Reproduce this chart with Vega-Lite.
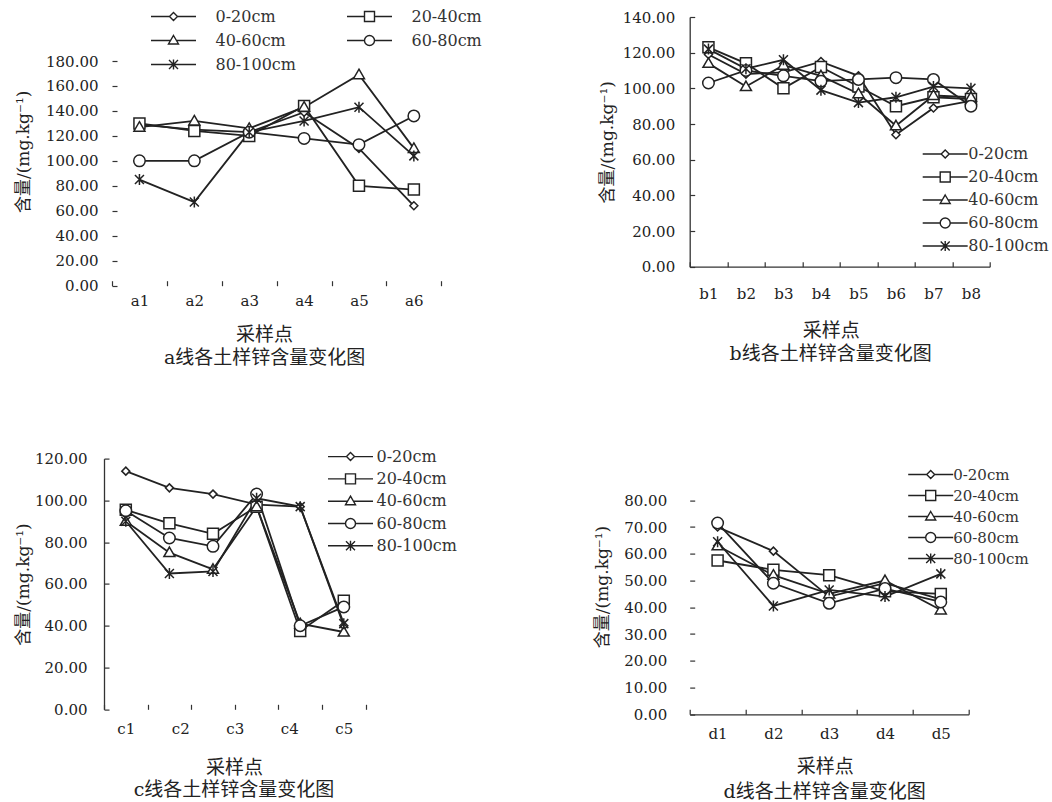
{
  "$schema": "https://vega.github.io/schema/vega-lite/v6.json",
  "autosize": {"type": "pad"},
  "padding": {"left": 14, "top": 8, "right": 2, "bottom": 0},
  "background": "white",
  "config": {
    "view": {"stroke": null},
    "font": "DejaVu Serif, Noto Sans CJK SC",
    "axis": {"domainColor": "#333", "domainWidth": 1.3, "tickColor": "#333", "tickWidth": 1.2, "labelColor": "#222", "labelFont": "DejaVu Serif", "labelFontSize": 15, "titleFont": "DejaVu Serif, Noto Sans CJK SC", "titleFontWeight": "normal", "titleColor": "#222", "grid": false, "labelOverlap": false, "labelFlush": false},
    "title": {"font": "DejaVu Serif, Noto Sans CJK SC", "fontSize": 19, "fontWeight": "normal", "color": "#222"},
    "legend": {"orient": "none", "title": null, "padding": 0, "direction": "vertical", "symbolSize": 100, "symbolStrokeWidth": 1.4, "symbolStrokeColor": "#222", "symbolOpacity": 1, "labelColor": "#333", "labelFont": "DejaVu Serif", "labelFontSize": 16, "symbolOffset": 16.5}
  },
  "datasets": {
    "a": [
      {"i": 1, "s": "0-20cm", "v": 129}, {"i": 2, "s": "0-20cm", "v": 125}, {"i": 3, "s": "0-20cm", "v": 123}, {"i": 4, "s": "0-20cm", "v": 139}, {"i": 5, "s": "0-20cm", "v": 110}, {"i": 6, "s": "0-20cm", "v": 64},
      {"i": 1, "s": "20-40cm", "v": 130}, {"i": 2, "s": "20-40cm", "v": 124}, {"i": 3, "s": "20-40cm", "v": 120}, {"i": 4, "s": "20-40cm", "v": 144}, {"i": 5, "s": "20-40cm", "v": 80}, {"i": 6, "s": "20-40cm", "v": 77},
      {"i": 1, "s": "40-60cm", "v": 127}, {"i": 2, "s": "40-60cm", "v": 132}, {"i": 3, "s": "40-60cm", "v": 126}, {"i": 4, "s": "40-60cm", "v": 143}, {"i": 5, "s": "40-60cm", "v": 169}, {"i": 6, "s": "40-60cm", "v": 110},
      {"i": 1, "s": "60-80cm", "v": 100}, {"i": 2, "s": "60-80cm", "v": 100}, {"i": 3, "s": "60-80cm", "v": 123}, {"i": 4, "s": "60-80cm", "v": 118}, {"i": 5, "s": "60-80cm", "v": 113}, {"i": 6, "s": "60-80cm", "v": 136},
      {"i": 1, "s": "80-100cm", "v": 85}, {"i": 2, "s": "80-100cm", "v": 67}, {"i": 3, "s": "80-100cm", "v": 123}, {"i": 4, "s": "80-100cm", "v": 132}, {"i": 5, "s": "80-100cm", "v": 143}, {"i": 6, "s": "80-100cm", "v": 104}
    ],
    "b": [
      {"i": 1, "s": "0-20cm", "v": 119}, {"i": 2, "s": "0-20cm", "v": 108}, {"i": 3, "s": "0-20cm", "v": 109}, {"i": 4, "s": "0-20cm", "v": 115}, {"i": 5, "s": "0-20cm", "v": 107}, {"i": 6, "s": "0-20cm", "v": 74}, {"i": 7, "s": "0-20cm", "v": 89}, {"i": 8, "s": "0-20cm", "v": 93},
      {"i": 1, "s": "20-40cm", "v": 123}, {"i": 2, "s": "20-40cm", "v": 114}, {"i": 3, "s": "20-40cm", "v": 100}, {"i": 4, "s": "20-40cm", "v": 112}, {"i": 5, "s": "20-40cm", "v": 101}, {"i": 6, "s": "20-40cm", "v": 90}, {"i": 7, "s": "20-40cm", "v": 95}, {"i": 8, "s": "20-40cm", "v": 94},
      {"i": 1, "s": "40-60cm", "v": 114}, {"i": 2, "s": "40-60cm", "v": 101}, {"i": 3, "s": "40-60cm", "v": 113}, {"i": 4, "s": "40-60cm", "v": 107}, {"i": 5, "s": "40-60cm", "v": 97}, {"i": 6, "s": "40-60cm", "v": 79}, {"i": 7, "s": "40-60cm", "v": 96}, {"i": 8, "s": "40-60cm", "v": 95},
      {"i": 1, "s": "60-80cm", "v": 103}, {"i": 2, "s": "60-80cm", "v": 110}, {"i": 3, "s": "60-80cm", "v": 107}, {"i": 4, "s": "60-80cm", "v": 104}, {"i": 5, "s": "60-80cm", "v": 105}, {"i": 6, "s": "60-80cm", "v": 106}, {"i": 7, "s": "60-80cm", "v": 105}, {"i": 8, "s": "60-80cm", "v": 90},
      {"i": 1, "s": "80-100cm", "v": 122}, {"i": 2, "s": "80-100cm", "v": 111}, {"i": 3, "s": "80-100cm", "v": 116}, {"i": 4, "s": "80-100cm", "v": 99}, {"i": 5, "s": "80-100cm", "v": 92}, {"i": 6, "s": "80-100cm", "v": 95}, {"i": 7, "s": "80-100cm", "v": 101}, {"i": 8, "s": "80-100cm", "v": 100}
    ],
    "c": [
      {"i": 1, "s": "0-20cm", "v": 114}, {"i": 2, "s": "0-20cm", "v": 106}, {"i": 3, "s": "0-20cm", "v": 103}, {"i": 4, "s": "0-20cm", "v": 98}, {"i": 5, "s": "0-20cm", "v": 97}, {"i": 6, "s": "0-20cm", "v": 40},
      {"i": 1, "s": "20-40cm", "v": 95.5}, {"i": 2, "s": "20-40cm", "v": 89}, {"i": 3, "s": "20-40cm", "v": 84}, {"i": 4, "s": "20-40cm", "v": 97}, {"i": 5, "s": "20-40cm", "v": 37.5}, {"i": 6, "s": "20-40cm", "v": 52},
      {"i": 1, "s": "40-60cm", "v": 90}, {"i": 2, "s": "40-60cm", "v": 75}, {"i": 3, "s": "40-60cm", "v": 67}, {"i": 4, "s": "40-60cm", "v": 97}, {"i": 5, "s": "40-60cm", "v": 41}, {"i": 6, "s": "40-60cm", "v": 37},
      {"i": 1, "s": "60-80cm", "v": 95}, {"i": 2, "s": "60-80cm", "v": 82}, {"i": 3, "s": "60-80cm", "v": 78}, {"i": 4, "s": "60-80cm", "v": 103}, {"i": 5, "s": "60-80cm", "v": 40}, {"i": 6, "s": "60-80cm", "v": 49},
      {"i": 1, "s": "80-100cm", "v": 90}, {"i": 2, "s": "80-100cm", "v": 65}, {"i": 3, "s": "80-100cm", "v": 66}, {"i": 4, "s": "80-100cm", "v": 101}, {"i": 5, "s": "80-100cm", "v": 97}, {"i": 6, "s": "80-100cm", "v": 41}
    ],
    "d": [
      {"i": 1, "s": "0-20cm", "v": 70}, {"i": 2, "s": "0-20cm", "v": 61}, {"i": 3, "s": "0-20cm", "v": 44}, {"i": 4, "s": "0-20cm", "v": 49}, {"i": 5, "s": "0-20cm", "v": 43},
      {"i": 1, "s": "20-40cm", "v": 57.5}, {"i": 2, "s": "20-40cm", "v": 54}, {"i": 3, "s": "20-40cm", "v": 52}, {"i": 4, "s": "20-40cm", "v": 46}, {"i": 5, "s": "20-40cm", "v": 45},
      {"i": 1, "s": "40-60cm", "v": 63}, {"i": 2, "s": "40-60cm", "v": 52}, {"i": 3, "s": "40-60cm", "v": 45}, {"i": 4, "s": "40-60cm", "v": 50}, {"i": 5, "s": "40-60cm", "v": 39},
      {"i": 1, "s": "60-80cm", "v": 71.5}, {"i": 2, "s": "60-80cm", "v": 49}, {"i": 3, "s": "60-80cm", "v": 41.5}, {"i": 4, "s": "60-80cm", "v": 47}, {"i": 5, "s": "60-80cm", "v": 42},
      {"i": 1, "s": "80-100cm", "v": 64.5}, {"i": 2, "s": "80-100cm", "v": 40.5}, {"i": 3, "s": "80-100cm", "v": 46.5}, {"i": 4, "s": "80-100cm", "v": 44}, {"i": 5, "s": "80-100cm", "v": 52.5}
    ]
  },
  "columns": 2,
  "align": "none",
  "bounds": "flush",
  "spacing": {"row": 172.6, "column": 241.7},
  "concat": [
    {
      "width": 337.3, "height": 268.7,
      "title": {"text": "a线各土样锌含量变化图", "orient": "bottom", "offset": 4, "dx": -8},
      "encoding": {
        "x": {"field": "i", "type": "quantitative", "scale": {"domain": [0.3542, 6.5], "nice": false, "zero": false},
          "axis": {"title": "采样点", "titleFontSize": 19, "titleX": 160, "domain": false, "values": [0.5, 1, 1.5, 2, 2.5, 3, 3.5, 4, 4.5, 5, 5.5, 6, 6.5], "labelExpr": "datum.value % 1 == 0 ? 'a' + datum.value : ''", "tickSize": -5, "tickOpacity": {"condition": {"test": "datum.value % 1 == 0", "value": 0}, "value": 1}, "labelPadding": 13, "titlePadding": 17}},
        "y": {"field": "v", "type": "quantitative", "scale": {"domain": [0, 215.25], "nice": false},
          "axis": {"title": "含量/(mg.kg⁻¹)", "titleFontSize": 17, "domain": false, "offset": -8, "values": [0, 20, 40, 60, 80, 100, 120, 140, 160, 180], "format": ".2f", "tickSize": -5, "labelPadding": 19, "titlePadding": 13}}
      },
      "layer": [
        {"data": {"values": [{}]}, "mark": {"type": "rule", "color": "#333", "strokeWidth": 1.3}, "encoding": {"x": {"datum": 0.5}, "y": {"datum": 0}, "y2": {"datum": 180}}},
        {"data": {"values": [{}]}, "mark": {"type": "rule", "color": "#333", "strokeWidth": 1.3}, "encoding": {"x": {"datum": 0.5}, "x2": {"datum": 6.5}, "y": {"datum": 0}}},
        {"data": {"name": "a"}, "mark": {"type": "line", "color": "#222", "strokeWidth": 1.8}, "encoding": {"detail": {"field": "s"}, "order": {"field": "i"}}},
        {"data": {"name": "a"}, "mark": {"type": "point", "filled": true, "fill": "white", "stroke": "#222", "strokeWidth": 1.5, "size": 100, "opacity": 1},
          "encoding": {"shape": {"field": "s", "type": "nominal", "legend": null, "scale": {"domain": ["0-20cm", "20-40cm", "40-60cm", "60-80cm", "80-100cm"], "range": ["M0,-0.8L0.8,0L0,0.8L-0.8,0Z", "M-1.1,-1.1L1.1,-1.1L1.1,1.1L-1.1,1.1Z", "M0,-1.1L1.1,0.8L-1.1,0.8Z", "M-1.15,0A1.15,1.15,0,1,1,1.15,0A1.15,1.15,0,1,1,-1.15,0Z", "M-0.9,-0.9L0.9,0.9M-0.9,0.9L0.9,-0.9M0,-1.1L0,1.1"]}}}},
        {"data": {"name": "a"}, "transform": [{"filter": "datum.v < 0"}],
          "mark": {"type": "point", "filled": false, "color": "#222", "strokeWidth": 1.4, "size": 100, "opacity": 1},
          "encoding": {"shape": {"field": "s", "type": "nominal", "scale": {"domain": ["0-20cm", "20-40cm", "40-60cm", "60-80cm", "80-100cm"], "range": ["M-4.5,0L-0.8,0M0.8,0L4.5,0M0,-0.8L0.8,0L0,0.8L-0.8,0Z", "M-4.5,0L-1,0M1,0L4.5,0M-1,-1L1,-1L1,1L-1,1Z", "M-4.5,0L-0.6,0M0.6,0L4.5,0M0,-1L1,0.7L-1,0.7Z", "M-4.5,0L-1,0M1,0L4.5,0M-1,0A1,1,0,1,1,1,0A1,1,0,1,1,-1,0Z", "M-4.5,0L4.5,0M-0.9,-0.9L0.9,0.9M-0.9,0.9L0.9,-0.9M0,-1L0,1"]},
            "legend": {"legendX": 45, "legendY": -8.5, "columns": 2, "direction": "horizontal", "rowPadding": 8, "columnPadding": 48, "labelOffset": 34, "symbolStrokeColor": "#222", "symbolStrokeWidth": 1.4}}}}
      ],
      "resolve": {"scale": {"shape": "independent"}}
    },
    {
      "data": {"name": "b"},
      "width": 300, "height": 249.7,
      "title": {"text": "b线各土样锌含量变化图", "orient": "bottom", "offset": 4, "dx": -9},
      "encoding": {
        "x": {"field": "i", "type": "quantitative", "scale": {"domain": [0.5, 8.5], "nice": false, "zero": false},
          "axis": {"title": "采样点", "titleFontSize": 19, "titleX": 141, "values": [0.5, 1, 1.5, 2, 2.5, 3, 3.5, 4, 4.5, 5, 5.5, 6, 6.5, 7, 7.5, 8, 8.5], "labelExpr": "datum.value % 1 == 0 ? 'b' + datum.value : ''", "tickSize": -5, "tickOpacity": {"condition": {"test": "datum.value % 1 == 0", "value": 0}, "value": 1}, "labelPadding": 25, "titlePadding": 20}},
        "y": {"field": "v", "type": "quantitative", "scale": {"domain": [0, 140], "nice": false},
          "axis": {"title": "含量/(mg.kg⁻¹)", "titleFontSize": 17, "values": [0, 20, 40, 60, 80, 100, 120, 140], "format": ".2f", "tickSize": -5, "labelPadding": 20, "titlePadding": 6}}
      },
      "layer": [
        {"mark": {"type": "line", "color": "#222", "strokeWidth": 1.8}, "encoding": {"detail": {"field": "s"}, "order": {"field": "i"}}},
        {"mark": {"type": "point", "filled": true, "fill": "white", "stroke": "#222", "strokeWidth": 1.5, "size": 100, "opacity": 1},
          "encoding": {"shape": {"field": "s", "type": "nominal", "legend": null, "scale": {"domain": ["0-20cm", "20-40cm", "40-60cm", "60-80cm", "80-100cm"], "range": ["M0,-0.8L0.8,0L0,0.8L-0.8,0Z", "M-1.1,-1.1L1.1,-1.1L1.1,1.1L-1.1,1.1Z", "M0,-1.1L1.1,0.8L-1.1,0.8Z", "M-1.15,0A1.15,1.15,0,1,1,1.15,0A1.15,1.15,0,1,1,-1.15,0Z", "M-0.9,-0.9L0.9,0.9M-0.9,0.9L0.9,-0.9M0,-1.1L0,1.1"]}}}},
        {"transform": [{"filter": "datum.v < 0"}],
          "mark": {"type": "point", "filled": false, "color": "#222", "strokeWidth": 1.4, "size": 100, "opacity": 1},
          "encoding": {"shape": {"field": "s", "type": "nominal", "scale": {"domain": ["0-20cm", "20-40cm", "40-60cm", "60-80cm", "80-100cm"], "range": ["M-4.5,0L-0.8,0M0.8,0L4.5,0M0,-0.8L0.8,0L0,0.8L-0.8,0Z", "M-4.5,0L-1,0M1,0L4.5,0M-1,-1L1,-1L1,1L-1,1Z", "M-4.5,0L-0.6,0M0.6,0L4.5,0M0,-1L1,0.7L-1,0.7Z", "M-4.5,0L-1,0M1,0L4.5,0M-1,0A1,1,0,1,1,1,0A1,1,0,1,1,-1,0Z", "M-4.5,0L4.5,0M-0.9,-0.9L0.9,0.9M-0.9,0.9L0.9,-0.9M0,-1L0,1"]},
            "legend": {"legendX": 231, "legendY": 129, "rowPadding": 7, "labelOffset": 15, "symbolStrokeColor": "#222", "symbolStrokeWidth": 1.4}}}}
      ],
      "resolve": {"scale": {"shape": "independent"}}
    },
    {
      "width": 343.3, "height": 250.7,
      "title": {"text": "c线各土样锌含量变化图", "orient": "bottom", "offset": 4, "dx": -41.6},
      "encoding": {
        "x": {"field": "i", "type": "quantitative", "scale": {"domain": [0.5, 8.374], "nice": false, "zero": false},
          "axis": {"title": "采样点", "titleFontSize": 19, "titleX": 130, "domain": false, "values": [0.5, 1, 1.5, 2.25, 2.5, 3.5, 4.5, 4.75, 5.5, 6, 6.5], "labelExpr": "datum.value == 1 ? 'c1' : datum.value == 2.25 ? 'c2' : datum.value == 3.5 ? 'c3' : datum.value == 4.75 ? 'c4' : datum.value == 6 ? 'c5' : ''", "tickSize": -5, "tickOpacity": {"condition": {"test": "(datum.value - 0.5) % 1 != 0", "value": 0}, "value": 1}, "labelPadding": 17, "titlePadding": 22}},
        "y": {"field": "v", "type": "quantitative", "scale": {"domain": [0, 120], "nice": false},
          "axis": {"title": "含量/(mg.kg⁻¹)", "titleFontSize": 17, "values": [0, 20, 40, 60, 80, 100, 120], "format": ".2f", "tickSize": -5, "labelPadding": 22, "titlePadding": 2}}
      },
      "layer": [
        {"data": {"values": [{}]}, "mark": {"type": "rule", "color": "#333", "strokeWidth": 1.3}, "encoding": {"x": {"datum": 0.5}, "x2": {"datum": 6.5}, "y": {"datum": 0}}},
        {"data": {"name": "c"}, "mark": {"type": "line", "color": "#222", "strokeWidth": 1.8}, "encoding": {"detail": {"field": "s"}, "order": {"field": "i"}}},
        {"data": {"name": "c"}, "mark": {"type": "point", "filled": true, "fill": "white", "stroke": "#222", "strokeWidth": 1.5, "size": 100, "opacity": 1},
          "encoding": {"shape": {"field": "s", "type": "nominal", "legend": null, "scale": {"domain": ["0-20cm", "20-40cm", "40-60cm", "60-80cm", "80-100cm"], "range": ["M0,-0.8L0.8,0L0,0.8L-0.8,0Z", "M-1.1,-1.1L1.1,-1.1L1.1,1.1L-1.1,1.1Z", "M0,-1.1L1.1,0.8L-1.1,0.8Z", "M-1.15,0A1.15,1.15,0,1,1,1.15,0A1.15,1.15,0,1,1,-1.15,0Z", "M-0.9,-0.9L0.9,0.9M-0.9,0.9L0.9,-0.9M0,-1.1L0,1.1"]}}}},
        {"data": {"name": "c"}, "transform": [{"filter": "datum.v < 0"}],
          "mark": {"type": "point", "filled": false, "color": "#222", "strokeWidth": 1.4, "size": 100, "opacity": 1},
          "encoding": {"shape": {"field": "s", "type": "nominal", "scale": {"domain": ["0-20cm", "20-40cm", "40-60cm", "60-80cm", "80-100cm"], "range": ["M-4.5,0L-0.8,0M0.8,0L4.5,0M0,-0.8L0.8,0L0,0.8L-0.8,0Z", "M-4.5,0L-1,0M1,0L4.5,0M-1,-1L1,-1L1,1L-1,1Z", "M-4.5,0L-0.6,0M0.6,0L4.5,0M0,-1L1,0.7L-1,0.7Z", "M-4.5,0L-1,0M1,0L4.5,0M-1,0A1,1,0,1,1,1,0A1,1,0,1,1,-1,0Z", "M-4.5,0L4.5,0M-0.9,-0.9L0.9,0.9M-0.9,0.9L0.9,-0.9M0,-1L0,1"]},
            "legend": {"legendX": 222, "legendY": -10, "rowPadding": 6.3, "labelOffset": 18, "symbolStrokeColor": "#222", "symbolStrokeWidth": 1.4}}}}
      ],
      "resolve": {"scale": {"shape": "independent"}}
    },
    {
      "width": 279, "height": 255.7,
      "title": {"text": "d线各土样锌含量变化图", "orient": "bottom", "offset": 7, "dx": -4.5},
      "encoding": {
        "x": {"field": "i", "type": "quantitative", "scale": {"domain": [0.5, 5.5], "nice": false, "zero": false},
          "axis": {"title": "采样点", "titleFontSize": 19, "titleX": 135, "values": [0.5, 1, 1.5, 2, 2.5, 3, 3.5, 4, 4.5, 5, 5.5], "labelExpr": "datum.value % 1 == 0 ? 'd' + datum.value : ''", "tickSize": -5, "tickOpacity": {"condition": {"test": "datum.value % 1 == 0", "value": 0}, "value": 1}, "labelPadding": 17, "titlePadding": 16}},
        "y": {"field": "v", "type": "quantitative", "scale": {"domain": [0, 95.59], "nice": false},
          "axis": {"title": "含量/(mg.kg⁻¹)", "titleFontSize": 17, "domain": false, "values": [0, 10, 20, 30, 40, 50, 60, 70, 80], "format": ".2f", "tickSize": -5, "labelPadding": 28, "titlePadding": 12}}
      },
      "layer": [
        {"data": {"values": [{}]}, "mark": {"type": "rule", "color": "#333", "strokeWidth": 1.3}, "encoding": {"x": {"datum": 0.5}, "y": {"datum": 0}, "y2": {"datum": 80}}},
        {"data": {"name": "d"}, "mark": {"type": "line", "color": "#222", "strokeWidth": 1.8}, "encoding": {"detail": {"field": "s"}, "order": {"field": "i"}}},
        {"data": {"name": "d"}, "mark": {"type": "point", "filled": true, "fill": "white", "stroke": "#222", "strokeWidth": 1.5, "size": 100, "opacity": 1},
          "encoding": {"shape": {"field": "s", "type": "nominal", "legend": null, "scale": {"domain": ["0-20cm", "20-40cm", "40-60cm", "60-80cm", "80-100cm"], "range": ["M0,-0.8L0.8,0L0,0.8L-0.8,0Z", "M-1.1,-1.1L1.1,-1.1L1.1,1.1L-1.1,1.1Z", "M0,-1.1L1.1,0.8L-1.1,0.8Z", "M-1.15,0A1.15,1.15,0,1,1,1.15,0A1.15,1.15,0,1,1,-1.15,0Z", "M-0.9,-0.9L0.9,0.9M-0.9,0.9L0.9,-0.9M0,-1.1L0,1.1"]}}}},
        {"data": {"name": "d"}, "transform": [{"filter": "datum.v < 0"}],
          "mark": {"type": "point", "filled": false, "color": "#222", "strokeWidth": 1.4, "size": 100, "opacity": 1},
          "encoding": {"shape": {"field": "s", "type": "nominal", "scale": {"domain": ["0-20cm", "20-40cm", "40-60cm", "60-80cm", "80-100cm"], "range": ["M-4.5,0L-0.8,0M0.8,0L4.5,0M0,-0.8L0.8,0L0,0.8L-0.8,0Z", "M-4.5,0L-1,0M1,0L4.5,0M-1,-1L1,-1L1,1L-1,1Z", "M-4.5,0L-0.6,0M0.6,0L4.5,0M0,-1L1,0.7L-1,0.7Z", "M-4.5,0L-1,0M1,0L4.5,0M-1,0A1,1,0,1,1,1,0A1,1,0,1,1,-1,0Z", "M-4.5,0L4.5,0M-0.9,-0.9L0.9,0.9M-0.9,0.9L0.9,-0.9M0,-1L0,1"]},
            "legend": {"legendX": 217, "legendY": 8.4, "rowPadding": 4, "labelOffset": 15, "labelFontSize": 15, "symbolStrokeColor": "#222", "symbolStrokeWidth": 1.4}}}}
      ],
      "resolve": {"scale": {"shape": "independent"}}
    }
  ]
}
